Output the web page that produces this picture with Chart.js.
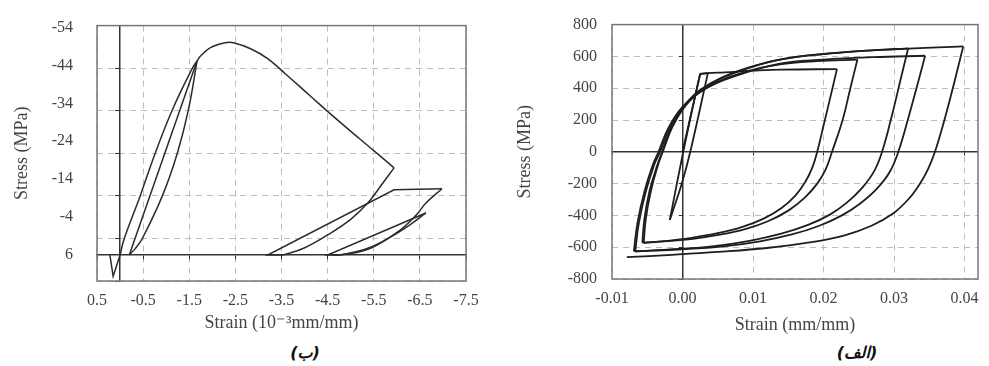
<!DOCTYPE html>
<html lang="fa">
<head>
<meta charset="UTF-8">
<title>Stress-strain</title>
<script src="https://cdn.jsdelivr.net/npm/chart.js"></script>
<style>
  body { margin: 0; background: #fff; width: 989px; height: 366px; position: relative; overflow: hidden; }
  canvas { position: absolute; top: 0; }
  .caption {
    position: absolute; top: 343px; width: 80px; text-align: center;
    font: italic bold 16px 'DejaVu Sans', sans-serif; color: #111;
  }
</style>
</head>
<body>
<canvas id="concrete" width="490" height="340" style="left:0"></canvas>
<canvas id="steel" width="489" height="340" style="left:500px"></canvas>
<div class="caption" dir="rtl" style="left:265px">(ب)</div>
<div class="caption" dir="rtl" style="left:817px">(الف)</div>

<script>
// ---- panel (ب): concrete, strain in 10^-3 mm/mm, stress as labelled on the axis
const concTension  = [[0.22, 6], [0.15, 11.6], [0, 6]];
const concEnvelope1 = [[0, 6], [-0.09, 1.7], [-0.43, -9.4], [-0.76, -20.8], [-1.13, -32.2], [-1.56, -43.1], [-1.67, -45.2]];
const concUnload1  = [[-1.67, -45.2], [-1.48, -32.2], [-1.24, -20.8], [-0.91, -9.4], [-0.48, 1.7], [-0.33, 4.3], [-0.2, 5.9]];
const concReload1  = [[-0.2, 6], [-1.67, -45.2]];
const concEnvelope2 = [[-1.67, -45.2], [-1.74, -46.4], [-1.96, -48.7], [-2.28, -50.0], [-2.46, -50.0], [-2.83, -48.4],
                      [-3.2, -45.8], [-3.6, -41.6], [-4.1, -36.2], [-4.63, -30.5], [-5.2, -24.6], [-5.65, -20.0], [-5.94, -17.0]];
const concUnload2  = [[-5.94, -17.0], [-5.65, -12.2], [-5.37, -7.7], [-5.0, -3.4], [-4.5, 0.7], [-3.98, 4.2], [-3.54, 6]];
const concReload2  = [[-3.54, 6], [-3.2, 6], [-5.94, -11.2], [-6.98, -11.5]];
const concUnload3  = [[-6.98, -11.5], [-6.63, -7.7], [-6.41, -4.4], [-6.02, -0.1], [-5.43, 4.2], [-4.89, 5.8], [-4.57, 6]];
const concReload3  = [[-4.57, 6], [-4.5, 6], [-6.63, -5.1]];
const concUnload4  = [[-6.63, -5.1], [-6.3, -2.1], [-5.87, 1.2], [-5.37, 4.2], [-4.85, 5.8], [-4.63, 6]];

const concXTicks = [0.5, -0.5, -1.5, -2.5, -3.5, -4.5, -5.5, -6.5, -7.5];
const concYTicks = [-54, -44, -34, -24, -14, -4, 6];

// ---- panel (الف): steel, strain mm/mm, stress MPa
const steelFirst   = [[0, 0], [0.0025, 490], [0.0036, 495]];
const steelSliver  = [[0.0036, 495], [0.0011, 0], [-0.0001, -200], [-0.0018, -428]];
const steelBack    = [[-0.0018, -428], [-0.0008, -200], [0.0001, 0], [0.0013, 250], [0.0025, 490]];
const steelLoad1   = [[0.0025, 490], [0.0036, 495], [0.006, 500], [0.010, 510], [0.014, 517], [0.0219, 520]];
const steelUnload1 = [[0.0219, 520], [0.0210, 350], [0.0200, 165], [0.0191, 0], [0.0184, -100], [0.0174, -190],
                      [0.0160, -275], [0.0140, -355], [0.0115, -420], [0.0085, -472], [0.0050, -512],
                      [0.0010, -543], [-0.0025, -562], [-0.0055, -574]];
const steelLoad2   = [[-0.0055, -574], [-0.0052, -420], [-0.0045, -250], [-0.0036, -100], [-0.0028, 0], [-0.0015, 150],
                      [0, 265], [0.002, 360], [0.005, 440], [0.009, 505], [0.0138, 550], [0.019, 570], [0.0248, 580]];
const steelUnload2 = [[0.0248, 580], [0.0238, 400], [0.0227, 200], [0.0212, 0], [0.0203, -110], [0.0191, -200],
                      [0.0173, -290], [0.0150, -370], [0.0122, -435], [0.0090, -485], [0.0055, -520],
                      [0.0015, -547], [-0.0022, -562], [-0.0057, -571]];
const steelLoad3   = [[-0.0057, -571], [-0.0054, -420], [-0.0047, -250], [-0.0037, -100], [-0.0029, 0], [-0.0016, 150],
                      [0, 272], [0.002, 372], [0.005, 455], [0.009, 525], [0.0138, 580], [0.02, 615], [0.026, 636], [0.032, 651]];
const steelUnload3 = [[0.032, 651], [0.0309, 450], [0.0297, 230], [0.0283, 0], [0.0272, -120], [0.0255, -225],
                      [0.0233, -320], [0.0209, -395], [0.0178, -460], [0.0140, -515], [0.0095, -560],
                      [0.0045, -593], [-0.0010, -613], [-0.0067, -627]];
const steelLoad4   = [[-0.0067, -627], [-0.0062, -450], [-0.0052, -250], [-0.004, -80], [-0.0032, 0], [-0.0018, 150],
                      [0, 278], [0.003, 390], [0.007, 470], [0.0138, 555], [0.02, 580], [0.027, 595], [0.0344, 604]];
const steelUnload4 = [[0.0344, 604], [0.0333, 420], [0.0320, 210], [0.0306, 0], [0.0294, -125], [0.0275, -235],
                      [0.0252, -325], [0.0226, -400], [0.0194, -465], [0.0155, -520], [0.0110, -563],
                      [0.0058, -595], [0.0000, -613], [-0.0069, -625]];
const steelLoad5   = [[-0.0069, -625], [-0.0064, -450], [-0.0054, -250], [-0.0042, -80], [-0.0034, 0], [-0.002, 150],
                      [0, 282], [0.003, 400], [0.007, 490], [0.0138, 580], [0.022, 622], [0.03, 645], [0.0398, 663]];
const steelUnload5 = [[0.0398, 663], [0.0385, 430], [0.0372, 210], [0.0358, 0], [0.0348, -110], [0.0336, -205],
                      [0.0320, -300], [0.0298, -390], [0.0268, -465], [0.0230, -525], [0.0180, -570],
                      [0.0120, -605], [0.0050, -630], [-0.0015, -648], [-0.0079, -663]];

const steelXTicks = [-0.01, 0, 0.01, 0.02, 0.03, 0.04];
const steelYTicks = [-800, -600, -400, -200, 0, 200, 400, 600, 800];

Chart.defaults.font.family = "'Liberation Serif', 'Times New Roman', serif";
Chart.defaults.color = '#444';

const gridGrey = '#bdbdbd';
const axisDark = '#333';

const frame = {
  id: 'frame',
  afterDraw(chart) {
    const { ctx, chartArea: a } = chart;
    ctx.save();
    ctx.strokeStyle = '#777';
    ctx.lineWidth = 1.5;
    ctx.strokeRect(a.left, a.top, a.right - a.left, a.bottom - a.top);
    ctx.restore();
  }
};

function toDataset(points, tension, color, width) {
  return {
    data: points.map(([x, y]) => ({ x, y })),
    showLine: true,
    tension,
    borderColor: color,
    borderWidth: width,
    pointRadius: 0,
    fill: false
  };
}

function fixedTicks(values) {
  return (scale) => { scale.ticks = values.map((v) => ({ value: v })); };
}

// ---- concrete chart
const concCurved = [concEnvelope1, concUnload1, concEnvelope2, concUnload2, concUnload3, concUnload4];
const concStraight = [concTension, concReload1, concReload2, concReload3];

new Chart(document.getElementById('concrete'), {
  type: 'scatter',
  data: {
    datasets: [
      ...concCurved.map((p) => toDataset(p, 0.4, '#2b2b2b', 1.5)),
      ...concStraight.map((p) => toDataset(p, 0, '#2b2b2b', 1.5))
    ]
  },
  options: {
    responsive: false,
    animation: false,
    layout: { padding: { top: 15, right: 24, left: 0, bottom: 0 } },
    plugins: { legend: { display: false }, tooltip: { enabled: false } },
    scales: {
      x: {
        type: 'linear', reverse: true, min: -7.5, max: 0.5,
        afterBuildTicks: fixedTicks(concXTicks),
        afterFit: (s) => { s.height = 59; },
        grid: { color: gridGrey, drawTicks: false },
        border: { display: false, dash: [6, 5] },
        ticks: { padding: 10, font: { size: 16 }, callback: (v) => Number(v).toFixed(1) },
        title: { display: true, text: 'Strain (10⁻³mm/mm)', font: { size: 18 }, padding: { top: 0, bottom: 6 } }
      },
      y: {
        type: 'linear', reverse: true, min: -54.5, max: 12.84,
        afterBuildTicks: fixedTicks(concYTicks),
        afterFit: (s) => { s.width = 97; },
        grid: { display: false },
        border: { display: false },
        ticks: { padding: 16, font: { size: 16 } },
        title: { display: true, text: 'Stress (MPa)', font: { size: 18 }, padding: { top: 11, bottom: 0 } }
      },
      // vertical strain = 0 line, carries the dashed stress grid
      yZero: {
        type: 'linear', axis: 'y', position: { x: 0 }, min: 0, max: 6,
        ticks: { display: false, stepSize: 1 },
        grid: { color: gridGrey, tickLength: 4, tickColor: axisDark, tickBorderDash: [] },
        border: { display: true, color: axisDark, width: 1.5, dash: [6, 5] }
      },
      // horizontal base line
      xBase: {
        type: 'linear', axis: 'x', position: { y: 6 }, reverse: true, min: -7.5, max: 0.5,
        afterBuildTicks: fixedTicks(concXTicks),
        ticks: { display: false },
        grid: { drawOnChartArea: false, tickLength: 4, tickColor: axisDark },
        border: { display: true, color: axisDark, width: 1.5 }
      }
    }
  },
  plugins: [frame]
});

// ---- steel chart
const steelCurved = [steelSliver, steelLoad1, steelUnload1, steelLoad2, steelUnload2, steelLoad3,
                     steelUnload3, steelLoad4, steelUnload4, steelLoad5, steelUnload5];
const steelStraight = [steelFirst, steelBack];

new Chart(document.getElementById('steel'), {
  type: 'scatter',
  data: {
    datasets: [
      ...steelCurved.map((p) => toDataset(p, 0.4, '#1e1e1e', 1.8)),
      ...steelStraight.map((p) => toDataset(p, 0, '#1e1e1e', 1.8))
    ]
  },
  options: {
    responsive: false,
    animation: false,
    layout: { padding: { top: 10, right: 11, left: 0, bottom: 0 } },
    plugins: { legend: { display: false }, tooltip: { enabled: false } },
    scales: {
      x: {
        type: 'linear', min: -0.01, max: 0.0419,
        afterBuildTicks: fixedTicks(steelXTicks),
        afterFit: (s) => { s.height = 61; },
        grid: { color: gridGrey, drawTicks: false },
        border: { display: false, dash: [6, 5] },
        ticks: { padding: 10, font: { size: 16 }, callback: (v) => Number(v).toFixed(2) },
        title: { display: true, text: 'Strain (mm/mm)', font: { size: 18 }, padding: { top: 0, bottom: 4 } }
      },
      y: {
        type: 'linear', min: -800, max: 800,
        afterBuildTicks: fixedTicks(steelYTicks),
        afterFit: (s) => { s.width = 112; },
        grid: { color: gridGrey, drawTicks: false },
        border: { display: false, dash: [6, 5] },
        ticks: { padding: 15, font: { size: 16 }, callback: (v) => String(v) },
        title: { display: true, text: 'Stress (MPa)', font: { size: 18 }, padding: { top: 14, bottom: 0 } }
      },
      yZero: {
        type: 'linear', axis: 'y', position: { x: 0 }, min: -800, max: 800,
        afterBuildTicks: fixedTicks(steelYTicks),
        ticks: { display: false },
        grid: { drawOnChartArea: false, tickLength: 3, tickColor: axisDark },
        border: { display: true, color: axisDark, width: 1.5 }
      },
      xZero: {
        type: 'linear', axis: 'x', position: { y: 0 }, min: -0.01, max: 0.0419,
        afterBuildTicks: fixedTicks(steelXTicks),
        ticks: { display: false },
        grid: { drawOnChartArea: false, tickLength: 3, tickColor: axisDark },
        border: { display: true, color: axisDark, width: 1.5 }
      }
    }
  },
  plugins: [frame]
});
</script>
</body>
</html>
